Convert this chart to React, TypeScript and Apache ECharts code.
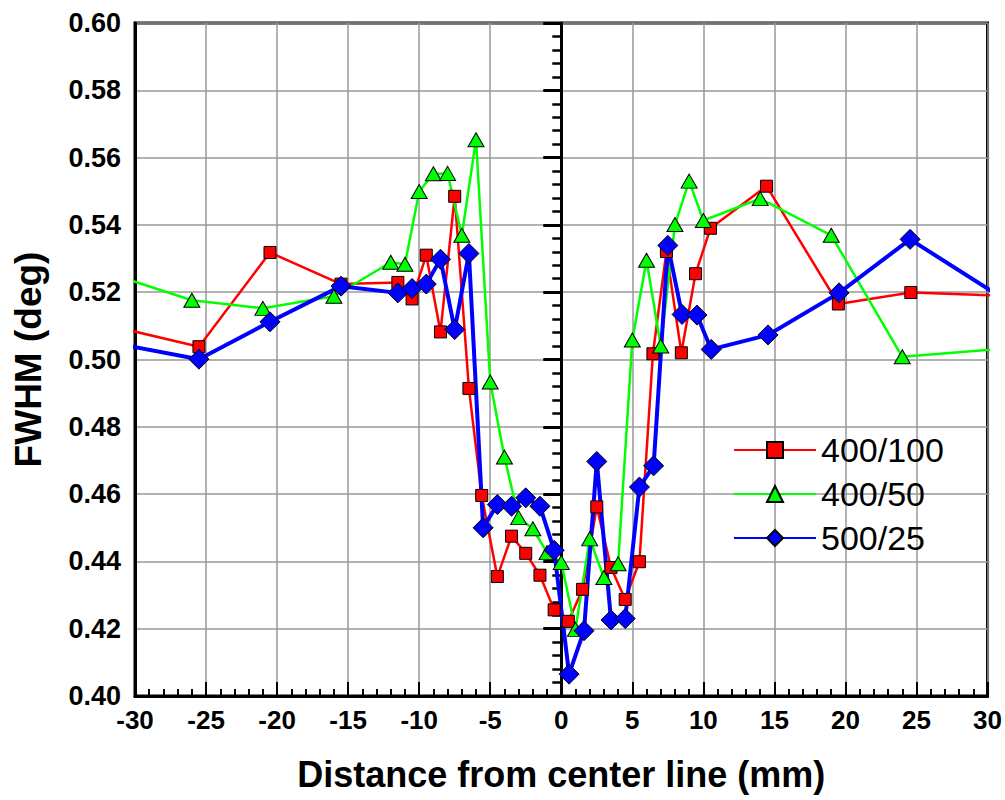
import React, { useEffect, useRef } from "react";
import * as echarts from "echarts";

// ---- data ----
const seriesNames = ["400/100", "400/50", "500/25"];

const xTicks = { min: -30, max: 30, interval: 5 };
const yTicks = { min: 0.4, max: 0.6, interval: 0.02 };

const redX = [-35, -25.5, -20.5, -15.5, -11.5, -10.5, -9.5, -8.5, -7.5, -6.5, -5.6, -4.5, -3.5, -2.5, -1.5, -0.5, 0.5, 1.5, 2.5, 3.5, 4.5, 5.5, 6.45, 7.4, 8.45, 9.45, 10.5, 14.45, 19.5, 24.6, 35];
const redY = [0.5133, 0.5038, 0.5318, 0.5224, 0.5229, 0.518, 0.531, 0.5082, 0.5485, 0.4914, 0.4596, 0.4355, 0.4475, 0.4424, 0.4359, 0.4256, 0.4222, 0.4317, 0.4562, 0.4382, 0.4287, 0.4399, 0.5017, 0.5321, 0.502, 0.5255, 0.539, 0.5515, 0.5165, 0.5199, 0.5184];

const greenX = [-35, -26.0, -21.0, -16.0, -12.0, -11.0, -10.0, -9.0, -8.0, -7.0, -6.0, -5.0, -4.0, -3.0, -2.0, -1.0, 0.0, 1.0, 2.0, 3.0, 4.0, 5.0, 6.0, 7.0, 8.0, 9.0, 10.0, 14.0, 19.0, 24.0, 35];
const greenY = [0.53, 0.5176, 0.5152, 0.5188, 0.5289, 0.5283, 0.5499, 0.5552, 0.5553, 0.5369, 0.5653, 0.4933, 0.471, 0.453, 0.4497, 0.4426, 0.4397, 0.4198, 0.4467, 0.4352, 0.4393, 0.5058, 0.5295, 0.504, 0.5401, 0.553, 0.5413, 0.5478, 0.5369, 0.5008, 0.5045];

const blueX = [-35, -25.5, -20.5, -15.5, -11.5, -10.5, -9.5, -8.5, -7.5, -6.5, -5.5, -4.5, -3.5, -2.5, -1.5, -0.5, 0.55, 1.6, 2.5, 3.5, 4.5, 5.5, 6.5, 7.5, 8.5, 9.55, 10.55, 14.55, 19.55, 24.55, 35];
const blueY = [0.5077, 0.5001, 0.5112, 0.5218, 0.5198, 0.5211, 0.5224, 0.5298, 0.5089, 0.5315, 0.45, 0.4569, 0.4564, 0.4589, 0.4564, 0.4433, 0.4065, 0.4194, 0.4697, 0.4226, 0.423, 0.4621, 0.4684, 0.5339, 0.5134, 0.5132, 0.503, 0.5073, 0.5198, 0.5357, 0.5077];

const xTitle = "Distance from center line (mm)";
const yTitle = "FWHM (deg)";

const zip = (xs: number[], ys: number[]) => xs.map((x, i) => [x, ys[i]]);

const FONT = "'Liberation Sans', Arial, sans-serif";

export default function App() {
  const ref = useRef<HTMLDivElement>(null);

  useEffect(() => {
    if (!ref.current) return;
    const chart = echarts.init(ref.current, undefined, { renderer: "svg" });

    const mkSeries = (
      name: string,
      data: number[][],
      color: string,
      width: number,
      symbol: string,
      size: number | number[]
    ) => ({
      name,
      type: "line",
      data,
      clip: true,
      symbol,
      symbolSize: size,
      showAllSymbol: true,
      lineStyle: { color, width },
      itemStyle: { color, borderColor: "#000", borderWidth: 1 },
      emphasis: { disabled: true },
    });

    chart.setOption({
      animation: false,
      backgroundColor: "#fff",
      textStyle: { fontFamily: FONT },
      grid: {
        left: 135,
        right: 17,
        top: 23,
        bottom: 104,
        show: true,
        borderColor: "#000",
        borderWidth: 3,
        backgroundColor: "transparent",
      },
      legend: {
        orient: "vertical",
        left: 733,
        top: 433,
        padding: 0,
        itemWidth: 82,
        itemHeight: 20,
        itemGap: 10,
        data: seriesNames,
        textStyle: { fontSize: 34, color: "#000", fontFamily: FONT, lineHeight: 34 },
      },
      xAxis: {
        type: "value",
        min: xTicks.min,
        max: xTicks.max,
        interval: xTicks.interval,
        name: xTitle,
        nameLocation: "middle",
        nameGap: 60,
        nameTextStyle: { fontSize: 36, fontWeight: "bold", color: "#000", fontFamily: FONT },
        axisLine: { onZero: false, lineStyle: { color: "#000", width: 3 } },
        axisTick: { inside: true, length: 14, lineStyle: { color: "#000", width: 2 } },
        minorTick: { show: true, splitNumber: 5, length: 7, lineStyle: { color: "#000", width: 2 } },
        axisLabel: { fontSize: 26, fontWeight: "bold", color: "#000", margin: 11, fontFamily: FONT },
        splitLine: { show: true, lineStyle: { color: "#999", width: 1.5 } },
      },
      yAxis: [
        {
          type: "value",
          min: yTicks.min,
          max: yTicks.max,
          interval: yTicks.interval,
          position: "left",
          name: yTitle,
          nameLocation: "middle",
          nameGap: 88,
          nameTextStyle: { fontSize: 37, fontWeight: "bold", color: "#000", fontFamily: FONT },
          axisLine: { show: true, onZero: false, lineStyle: { color: "#000", width: 3 } },
          axisTick: { show: false },
          axisLabel: {
            fontSize: 27,
            fontWeight: "bold",
            color: "#000",
            margin: 14,
            fontFamily: FONT,
            formatter: (v: number) => v.toFixed(2),
          },
          splitLine: { show: true, lineStyle: { color: "#999", width: 1.5 } },
        },
        {
          type: "value",
          min: yTicks.min,
          max: yTicks.max,
          interval: yTicks.interval,
          position: "left",
          axisLine: { show: true, onZero: true, onZeroAxisIndex: 0, lineStyle: { color: "#000", width: 3 } },
          axisTick: { show: true, inside: false, length: 18, lineStyle: { color: "#000", width: 3 } },
          minorTick: { show: true, splitNumber: 5, length: 9, lineStyle: { color: "#000", width: 2.5 } },
          axisLabel: { show: false },
          splitLine: { show: false },
        },
      ],
      series: [
        mkSeries(seriesNames[0], zip(redX, redY), "#ff0000", 2.5, "rect", 12),
        mkSeries(seriesNames[1], zip(greenX, greenY), "#00ff00", 2.5, "triangle", [16, 14]),
        mkSeries(seriesNames[2], zip(blueX, blueY), "#0000ff", 4, "diamond", 20),
      ],
    });

    return () => chart.dispose();
  }, []);

  return (
    <div
      ref={ref}
      style={{ position: "absolute", left: 0, top: 0, width: 1005, height: 800 }}
    />
  );
}
